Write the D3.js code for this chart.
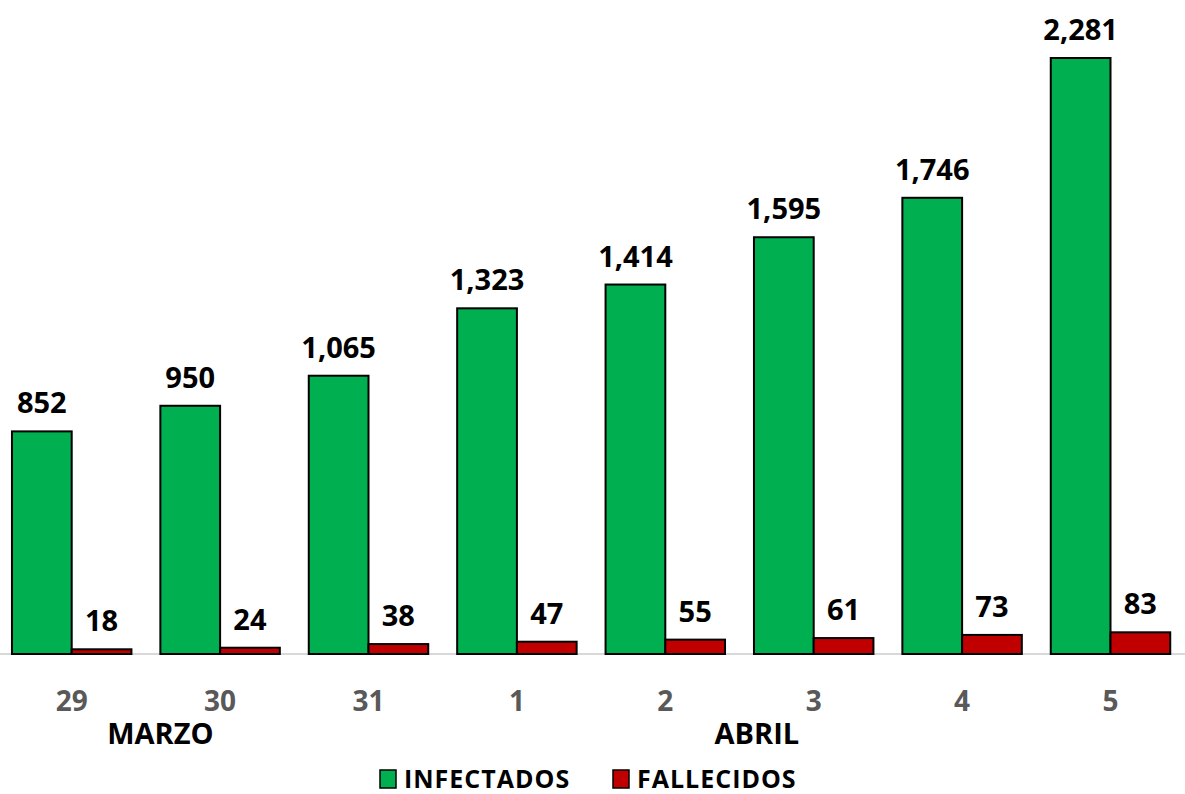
<!DOCTYPE html>
<html>
<head>
<meta charset="utf-8">
<script src="https://cdn.jsdelivr.net/npm/d3@7"></script>
<style>
  body { margin: 0; background: #fff; }
  text { font-family: "Open Sans", "DejaVu Sans", sans-serif; font-weight: bold; }
</style>
</head>
<body>
<div id="chart"></div>
<script>
// data
var days = ["29", "30", "31", "1", "2", "3", "4", "5"];
var infectados = [852, 950, 1065, 1323, 1414, 1595, 1746, 2281];
var fallecidos = [18, 24, 38, 47, 55, 61, 73, 83];
var seriesNames = ["INFECTADOS", "FALLECIDOS"];
var seriesColors = ["#00B050", "#C00000"];
var months = [{name: "MARZO", day: "29", off: 1.0}, {name: "ABRIL", day: "2", off: 1.02}];

var width = 1185, height = 794;

var svg = d3.select("#chart")
  .append("svg")
    .attr("width", width)
    .attr("height", height);

// x: one band per day, then one sub band per series
var x = d3.scaleBand()
  .domain(days)
  .range([-2.5, 1184.7])
  .paddingInner(0.195)
  .paddingOuter(0.0975);

var xSub = d3.scaleBand()
  .domain(seriesNames)
  .range([0, x.bandwidth()]);

var y = d3.scaleLinear()
  .domain([0, 2281])
  .range([654, 58]);

var rows = days.map(function(d, i) {
  return {day: d, values: [infectados[i], fallecidos[i]]};
});

// baseline
svg.append("line")
  .attr("x1", 0).attr("x2", width)
  .attr("y1", y(0)).attr("y2", y(0))
  .attr("stroke", "#d9d9d9")
  .attr("stroke-width", 2);

var groups = svg.selectAll("g.day")
  .data(rows)
  .enter()
  .append("g")
    .attr("class", "day")
    .attr("transform", function(d) { return "translate(" + x(d.day) + ",0)"; });

var cells = groups.selectAll("g.cell")
  .data(function(d) { return d.values.map(function(v, j) { return {v: v, s: seriesNames[j], c: seriesColors[j]}; }); })
  .enter()
  .append("g");

// bars
cells.append("rect")
  .attr("x", function(d) { return xSub(d.s); })
  .attr("y", function(d) { return y(d.v); })
  .attr("width", xSub.bandwidth())
  .attr("height", function(d) { return y(0) - y(d.v); })
  .attr("fill", function(d) { return d.c; })
  .attr("stroke", "#000")
  .attr("stroke-width", 2);

// value labels
cells.append("text")
  .attr("x", function(d) { return xSub(d.s) + xSub.bandwidth() / 2; })
  .attr("y", function(d) { return y(d.v) - 18; })
  .attr("text-anchor", "middle")
  .style("font-size", "29px")
  .attr("fill", "#000")
  .text(function(d) { return d3.format(",")(d.v); });

// day ticks
svg.selectAll("text.tick")
  .data(days)
  .enter()
  .append("text")
    .attr("class", "tick")
    .attr("x", function(d) { return x(d) + x.bandwidth() / 2; })
    .attr("y", 711)
    .attr("text-anchor", "middle")
    .style("font-size", "28px")
    .attr("fill", "#595959")
    .text(function(d) { return d; });

// month labels
svg.selectAll("text.month")
  .data(months)
  .enter()
  .append("text")
    .attr("class", "month")
    .attr("x", function(d) { return x(d.day) + x.step() * d.off; })
    .attr("y", 744)
    .attr("text-anchor", "middle")
    .style("font-size", "29px")
    .attr("fill", "#000")
    .text(function(d) { return d.name; });

// legend
var legendX = [380, 613];
var legend = svg.selectAll("g.legend")
  .data(seriesNames)
  .enter()
  .append("g")
    .attr("class", "legend")
    .attr("transform", function(d, i) { return "translate(" + legendX[i] + ",770)"; });

legend.append("rect")
  .attr("width", 16).attr("height", 18)
  .attr("fill", function(d, i) { return seriesColors[i]; })
  .attr("stroke", "#000")
  .attr("stroke-width", 1.5);

legend.append("text")
  .attr("x", 24)
  .attr("y", 18)
  .style("font-size", "25px")
  .style("letter-spacing", "1px")
  .attr("fill", "#000")
  .text(function(d) { return d; });
</script>
</body>
</html>
